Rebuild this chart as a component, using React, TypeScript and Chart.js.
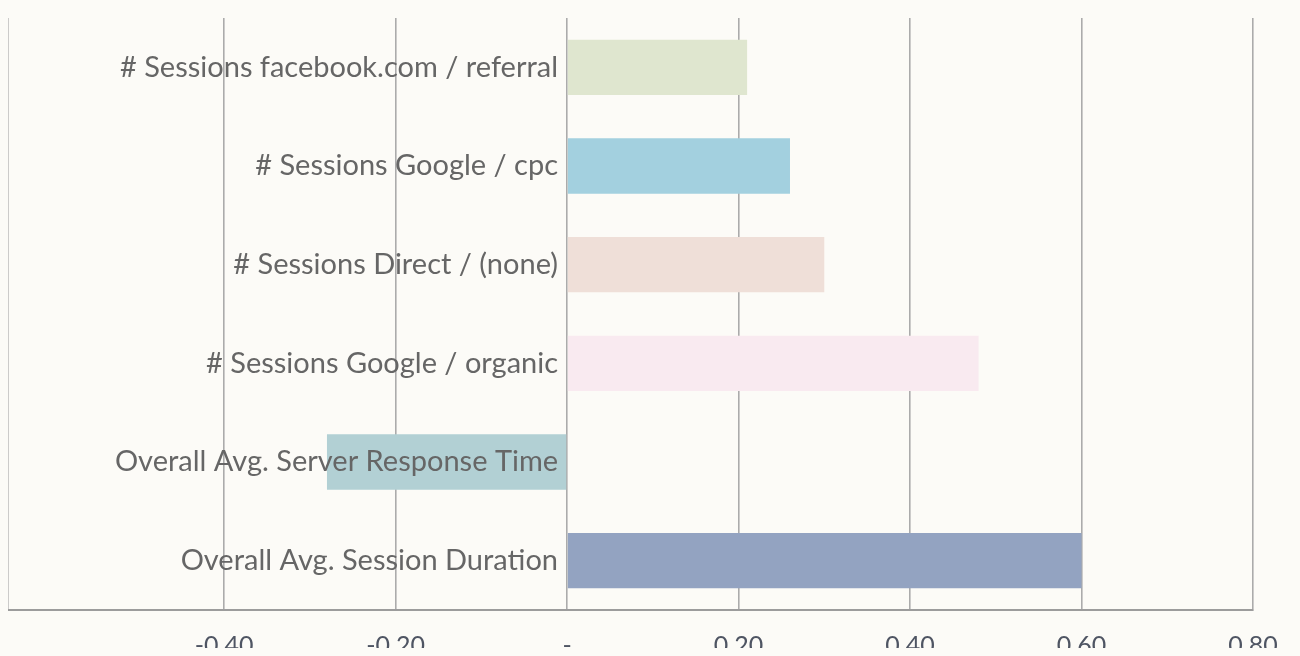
import React, { useEffect, useRef } from "react";
import { Chart, registerables } from "chart.js";

Chart.register(...registerables);

const categories = [
  "# Sessions facebook.com / referral",
  "# Sessions Google / cpc",
  "# Sessions Direct / (none)",
  "# Sessions Google / organic",
  "Overall Avg. Server Response Time",
  "Overall Avg. Session Duration",
];
const values = [0.21, 0.26, 0.3, 0.48, -0.28, 0.6];
const barColors = ["#dfe6cf", "#a3d0df", "#efdfd8", "#f9eaf0", "#b2d0d4", "#93a3c1"];
const xTickValues = [-0.4, -0.2, 0, 0.2, 0.4, 0.6, 0.8];
const xMin = -0.652;
const xMax = 0.8;
const labelAnchor = -0.0105;

export default function App() {
  const canvasRef = useRef<HTMLCanvasElement | null>(null);

  useEffect(() => {
    document.body.style.background = "#fcfbf7";
    const canvas = canvasRef.current;
    if (!canvas) return;
    const chart = new Chart(canvas, {
      type: "bar",
      data: {
        labels: categories,
        datasets: [
          {
            data: values,
            backgroundColor: barColors,
            borderWidth: 0,
            barPercentage: 0.56,
            categoryPercentage: 1,
          },
        ],
      },
      options: {
        indexAxis: "y",
        animation: false,
        responsive: true,
        maintainAspectRatio: false,
        layout: { padding: { top: 10, right: 39, left: 0, bottom: 0 } },
        plugins: {
          legend: { display: false },
          tooltip: { enabled: false },
        },
        scales: {
          x: {
            type: "linear",
            position: "bottom",
            min: xMin,
            max: xMax,
            afterBuildTicks: (s: any) => {
              s.ticks = [{ value: xMin }, ...xTickValues.map((v) => ({ value: v }))];
            },
            afterFit: (s: any) => {
              s.height = 46;
              s.paddingLeft = 0;
              s.paddingRight = 0;
            },
            grid: { color: "#ababab", lineWidth: 1.6, drawTicks: false },
            border: { display: true, color: "#9c9c9c", width: 2 },
            ticks: {
              padding: 21,
              color: "#4f5563",
              autoSkip: false,
              maxRotation: 0,
              font: { family: "Lato", size: 25 },
              callback: (value: any) => {
                const v = Number(value);
                if (Math.abs(v - xMin) < 1e-6) return "";
                if (Math.abs(v) < 1e-9) return "-";
                return v.toFixed(2);
              },
            },
          },
          y: {
            type: "category",
            position: { x: labelAnchor } as any,
            grid: { display: false, drawTicks: false },
            border: { display: false },
            ticks: {
              z: 1,
              padding: 0,
              color: "#666666",
              autoSkip: false,
              font: { family: "Lato", size: 29 },
            },
            afterFit: (s: any) => {
              s.paddingTop = 0;
              s.paddingBottom = 0;
            },
          },
        },
      } as any,
    });
    return () => chart.destroy();
  }, []);

  return (
    <div style={{ width: "100%", height: 648, marginBottom: -8, position: "relative" }}>
      <canvas ref={canvasRef} />
    </div>
  );
}
